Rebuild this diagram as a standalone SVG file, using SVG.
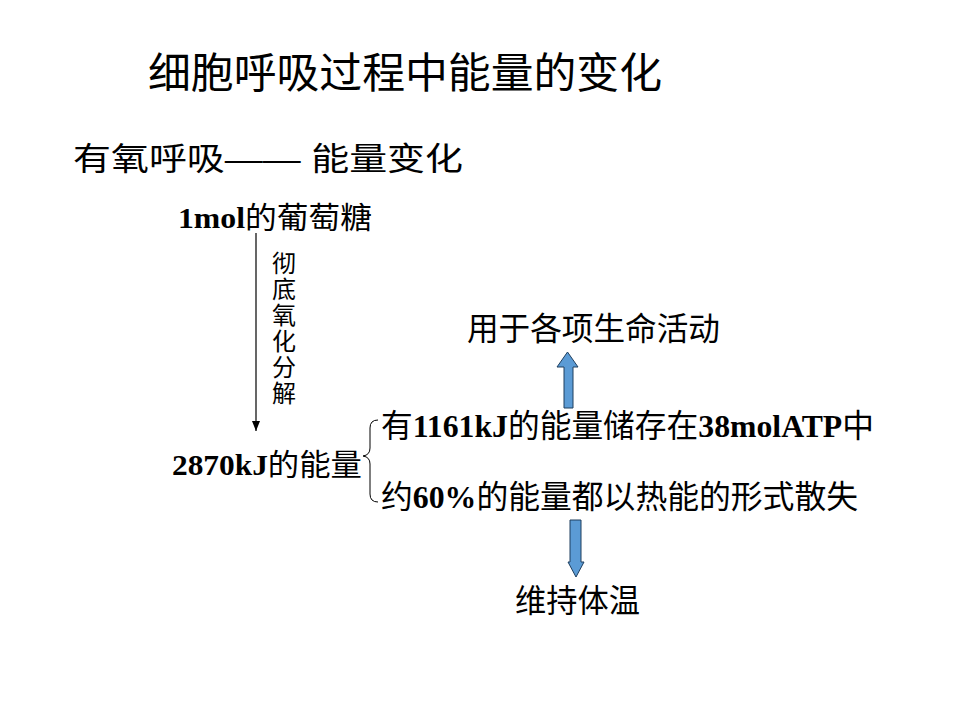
<svg xmlns="http://www.w3.org/2000/svg" width="960" height="720" viewBox="0 0 960 720">
<defs>
<style>
.cjk{font-family:"Liberation Serif","Noto Sans CJK SC",serif;fill:#000}
.sans{font-family:"Liberation Sans","Noto Sans CJK SC",sans-serif;fill:#000}
.b{font-weight:bold;font-family:"Liberation Serif",serif}
.blk{fill:#5b9bd5;stroke:#1f3f5f;stroke-width:1}
</style>
<marker id="ah" markerWidth="10" markerHeight="8" refX="10" refY="4" orient="auto" markerUnits="userSpaceOnUse" viewBox="0 0 10 8">
<path d="M0,0 L10,4 L0,8 Z" fill="#000"/>
</marker>
</defs>
<rect width="960" height="720" fill="#fff"/>
<g id="title"><text class="cjk" x="148" y="88" font-size="42" textLength="514" lengthAdjust="spacingAndGlyphs">细胞呼吸过程中能量的变化</text></g>
<g id="subtitle"><text class="sans" x="73" y="170" font-size="32" textLength="390" lengthAdjust="spacingAndGlyphs">有氧呼吸—— 能量变化</text></g>
<g id="glucose"><text class="cjk" x="178" y="228" font-size="30" textLength="194" lengthAdjust="spacingAndGlyphs"><tspan class="b">1mol</tspan>的葡萄糖</text></g>
<g id="process"><text class="cjk" font-size="24" text-anchor="middle">
<tspan x="284" y="272">彻</tspan><tspan x="284" y="298">底</tspan><tspan x="284" y="324">氧</tspan><tspan x="284" y="350">化</tspan><tspan x="284" y="376">分</tspan><tspan x="284" y="402">解</tspan></text></g>
<g id="energy"><text class="cjk" x="172" y="475" font-size="30" textLength="190" lengthAdjust="spacingAndGlyphs"><tspan class="b">2870kJ</tspan>的能量</text></g>
<g id="atp"><text class="cjk" x="381" y="437" font-size="32" textLength="493" lengthAdjust="spacingAndGlyphs"><tspan>有</tspan><tspan class="b">1161kJ</tspan><tspan>的能量储存在</tspan><tspan class="b">38molATP</tspan><tspan>中</tspan></text></g>
<g id="heat"><text class="cjk" x="381" y="508" font-size="32" textLength="477" lengthAdjust="spacingAndGlyphs"><tspan>约</tspan><tspan class="b">60%</tspan><tspan>的能量都以热能的形式散失</tspan></text></g>
<g id="life"><text class="cjk" x="467" y="340" font-size="32" textLength="253" lengthAdjust="spacingAndGlyphs">用于各项生命活动</text></g>
<g id="temp"><text class="cjk" x="515" y="612" font-size="32" textLength="125" lengthAdjust="spacingAndGlyphs">维持体温</text></g>
<g id="connectors">
<line x1="256" y1="233" x2="256" y2="431" stroke="#000" stroke-width="1.2" marker-end="url(#ah)"/>
<path d="M378,420 Q370,420 370,428 L370,448 Q370,455 363,456 Q370,457 370,464 L370,494 Q370,502 378,502" fill="none" stroke="#000" stroke-width="1"/>
<path class="blk" d="M564,408 L564,367 L557,367 L567.5,352 L578,367 L573,367 L573,408 Z"/>
<path class="blk" d="M570,520 L581,520 L581,562 L584,562 L576,577 L568,562 L570,562 Z"/>
</g>
</svg>
